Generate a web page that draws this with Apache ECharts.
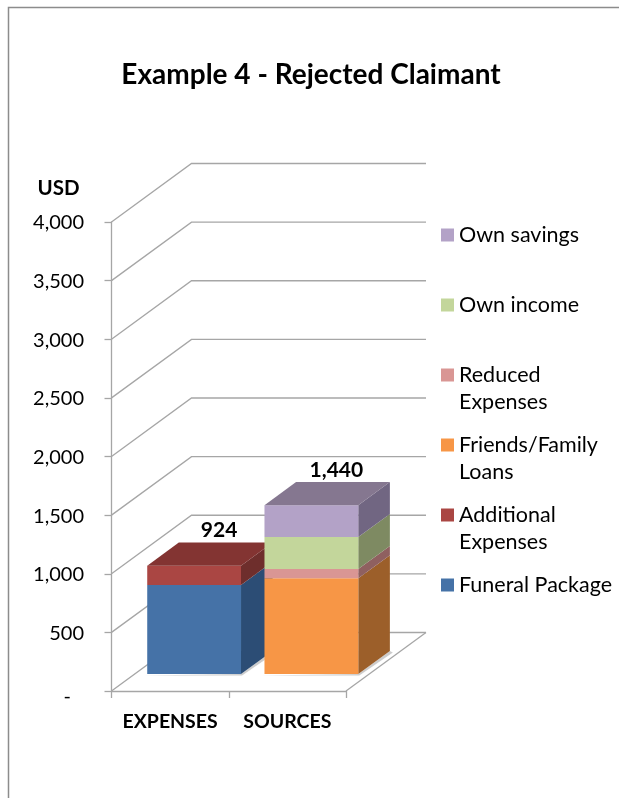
<!DOCTYPE html>
<html>
<head>
<meta charset="utf-8">
<title>Example 4 - Rejected Claimant</title>
<style>
  html, body { margin: 0; padding: 0; background: #fff; }
  #chart { width: 619px; height: 798px; }
</style>
<script src="https://cdn.jsdelivr.net/npm/echarts@6/dist/echarts.min.js"></script>
</head>
<body>
<div id="chart"></div>
<script>
// Chart values in USD
const categories = ['EXPENSES', 'SOURCES'];
const funeralPackage = [760, 0];
const additionalExpenses = [164, 0];
const friendsFamilyLoans = [0, 816];
const reducedExpenses = [0, 80];
const ownIncome = [0, 272];
const ownSavings = [0, 272];
const yTicks = [0, 500, 1000, 1500, 2000, 2500, 3000, 3500, 4000];

// Stack order, bottom to top
const stack = [
  { name: 'Funeral Package', values: funeralPackage },
  { name: 'Additional Expenses', values: additionalExpenses },
  { name: 'Friends/Family Loans', values: friendsFamilyLoans },
  { name: 'Reduced Expenses', values: reducedExpenses },
  { name: 'Own income', values: ownIncome },
  { name: 'Own savings', values: ownSavings }
];

// Face shades for each stack member
const shades = {
  'Funeral Package':      { front: '#4572A7', side: '#2C4D75', top: '#335A87' },
  'Additional Expenses':  { front: '#AA4643', side: '#6E2E2C', top: '#833432' },
  'Friends/Family Loans': { front: '#F79646', side: '#9C5F2A', top: '#B8702F' },
  'Reduced Expenses':     { front: '#D99694', side: '#8F6060', top: '#A87270' },
  'Own income':           { front: '#C3D69B', side: '#7E8A62', top: '#96A577' },
  'Own savings':          { front: '#B3A2C7', side: '#716682', top: '#857790' }
};

// Legend rows carry a blank line above so the swatch sits beside the first text line
const legendLines = {
  'Funeral Package': ['Funeral Package', ' '],
  'Additional Expenses': ['Additional', 'Expenses'],
  'Friends/Family Loans': ['Friends/Family', 'Loans'],
  'Reduced Expenses': ['Reduced', 'Expenses'],
  'Own income': ['Own income', ' '],
  'Own savings': ['Own savings', ' ']
};

// Oblique projection of the chart's depth axis, in pixels
const DEPTH_X = 80;
const DEPTH_Y = -58.5;
const BAR_NEAR = 0.3;
const BAR_FAR = 0.695;
const BAR_DROP = 0.6;
const BAR_WIDTH_RATIO = 0.8;
const GRID_COLOR = '#A6A6A6';
const GRID_WIDTH = 1.3;
const FONT = 'Lato, "Open Sans", sans-serif';

const fmt = v => (v === 0 ? '-' : v.toLocaleString('en-US'));

const poly = (points, fill) => ({
  type: 'polygon',
  shape: { points },
  style: { fill, stroke: null }
});

// Walls and floor behind the columns
function renderWalls(params, api) {
  const sys = params.coordSys;
  const y = api.coord([0, api.value(0)])[1];
  const x0 = sys.x;
  const x1 = sys.x + sys.width;
  const children = [{
    type: 'polyline',
    shape: { points: [[x0, y], [x0 + DEPTH_X, y + DEPTH_Y], [x1 + DEPTH_X, y + DEPTH_Y]] },
    style: { stroke: GRID_COLOR, lineWidth: GRID_WIDTH, fill: null }
  }];
  if (api.value(0) === 0) {
    children.push({
      type: 'line',
      shape: { x1, y1: y, x2: x1 + DEPTH_X, y2: y + DEPTH_Y },
      style: { stroke: GRID_COLOR, lineWidth: GRID_WIDTH }
    });
  }
  return { type: 'group', children };
}

// One stacked segment: front and side faces, plus a top face on the highest segment.
// The lowest segment also lays a faint contact shadow on the floor.
function renderSegment(params, api) {
  const seriesName = params.seriesName;
  const i = api.value(0);
  const base = api.value(1);
  const top = api.value(2);
  if (top === base) return { type: 'group', children: [] };
  const band = api.size([1, 0])[0];
  const w = band * BAR_WIDTH_RATIO;
  const cx = api.coord([i, 0])[0];
  const yb = api.coord([i, base])[1];
  const yt = api.coord([i, top])[1];
  const xl = cx - w / 2 + DEPTH_X * BAR_NEAR;
  const xr = xl + w;
  const ox = DEPTH_X * (BAR_FAR - BAR_NEAR);
  const oy = DEPTH_Y * (BAR_FAR - BAR_NEAR);
  const ny = DEPTH_Y * BAR_NEAR + BAR_DROP;
  const c = shades[seriesName];
  const children = [];
  if (base === 0) {
    const floorY = yb + ny;
    children.push({
      type: 'polygon',
      shape: {
        points: [[xl - 4, floorY + 1.5], [xr + 1, floorY + 1.5], [xr + ox + 3, floorY + oy + 1.5], [xr + ox, floorY + oy], [xr, floorY]]
      },
      style: { fill: 'rgba(0,0,0,0.18)', shadowBlur: 2, shadowColor: 'rgba(0,0,0,0.2)' }
    });
  }
  children.push(
    poly([[xr, yb + ny], [xr + ox, yb + ny + oy], [xr + ox, yt + ny + oy], [xr, yt + ny]], c.side),
    poly([[xl, yb + ny], [xr, yb + ny], [xr, yt + ny], [xl, yt + ny]], c.front)
  );
  if (api.value(3)) {
    children.push(poly([[xl, yt + ny], [xr, yt + ny], [xr + ox, yt + ny + oy], [xl + ox, yt + ny + oy]], c.top));
  }
  return { type: 'group', children };
}

// Column total printed above the top face
function renderTotal(params, api) {
  const i = api.value(0);
  const total = api.value(1);
  const cx = api.coord([i, 0])[0];
  const yt = api.coord([i, total])[1];
  return {
    type: 'text',
    style: {
      x: cx + DEPTH_X * BAR_NEAR + 25,
      y: yt + DEPTH_Y * BAR_NEAR - 34.5,
      text: fmt(total),
      fill: '#000',
      font: 'bold 21px ' + FONT,
      textAlign: 'center',
      textVerticalAlign: 'middle'
    }
  };
}

const totals = categories.map((_, i) => stack.reduce((sum, s) => sum + s.values[i], 0));

const segmentSeries = stack.map((s, k) => ({
  name: s.name,
  type: 'custom',
  renderItem: renderSegment,
  clip: false,
  itemStyle: { color: shades[s.name].front },
  encode: { x: 0, y: 2 },
  data: s.values.map((v, i) => {
    const below = stack.slice(0, k).reduce((sum, o) => sum + o.values[i], 0);
    const isTop = v > 0 && stack.slice(k + 1).every(o => o.values[i] === 0);
    return [i, below, below + v, isTop ? 1 : 0];
  })
}));

const chart = echarts.init(document.getElementById('chart'), null, { renderer: 'canvas' });

chart.setOption({
  animation: false,
  backgroundColor: '#fff',
  textStyle: { fontFamily: FONT },
  title: {
    text: 'Example 4 - Rejected Claimant',
    left: 306,
    top: 56,
    textAlign: 'center',
    textStyle: { fontFamily: FONT, fontWeight: 'bold', fontSize: 28, color: '#000' }
  },
  grid: { left: 111.5, right: 273, top: 222, bottom: 107 },
  xAxis: {
    type: 'category',
    data: categories,
    axisLine: { lineStyle: { color: GRID_COLOR, width: GRID_WIDTH } },
    axisTick: { show: true, length: 7, lineStyle: { color: GRID_COLOR, width: GRID_WIDTH } },
    axisLabel: { color: '#000', fontFamily: FONT, fontWeight: 'bold', fontSize: 19.5, margin: 21, interval: 0, hideOverlap: false }
  },
  yAxis: {
    type: 'value',
    min: 0,
    max: 4000,
    interval: 500,
    name: 'USD',
    nameLocation: 'end',
    nameGap: 23,
    nameTextStyle: { color: '#000', fontFamily: FONT, fontWeight: 'bold', fontSize: 20.5, align: 'right', padding: [0, 32, 0, 0] },
    axisLine: { show: true, lineStyle: { color: GRID_COLOR, width: GRID_WIDTH } },
    axisTick: { show: true, length: 7, lineStyle: { color: GRID_COLOR, width: GRID_WIDTH } },
    splitLine: { show: false },
    axisLabel: {
      color: '#000',
      fontFamily: FONT,
      fontSize: 20,
      margin: 27.5,
      padding: [2, 0, 0, 0],
      formatter: v => (v === 0 ? '{dash|-}' : fmt(v)),
      rich: { dash: { color: '#000', fontFamily: FONT, fontSize: 20, padding: [10, 13, 0, 0] } }
    }
  },
  legend: {
    orient: 'vertical',
    left: 441,
    top: 194.5,
    padding: 0,
    itemGap: -11,
    itemWidth: 13,
    itemHeight: 13,
    icon: 'rect',
    selectedMode: false,
    data: stack.map(s => s.name).reverse(),
    formatter: name => ' \n' + legendLines[name].join('\n'),
    textStyle: { color: '#000', fontFamily: FONT, fontSize: 21.5, lineHeight: 27 }
  },
  graphic: [{
    type: 'polyline',
    silent: true,
    shape: { points: [[8.5, 798], [8.5, 7.5], [619, 7.5]] },
    style: { stroke: '#8C8C8C', lineWidth: 1.5, fill: null }
  }],
  series: [
    {
      name: 'Gridlines',
      type: 'custom',
      renderItem: renderWalls,
      clip: false,
      silent: true,
      encode: { y: 0 },
      data: yTicks.map(v => [v])
    },
    ...segmentSeries,
    {
      name: 'Total',
      type: 'custom',
      renderItem: renderTotal,
      clip: false,
      silent: true,
      encode: { x: 0, y: 1 },
      data: totals.map((t, i) => [i, t])
    }
  ]
});
</script>
</body>
</html>
